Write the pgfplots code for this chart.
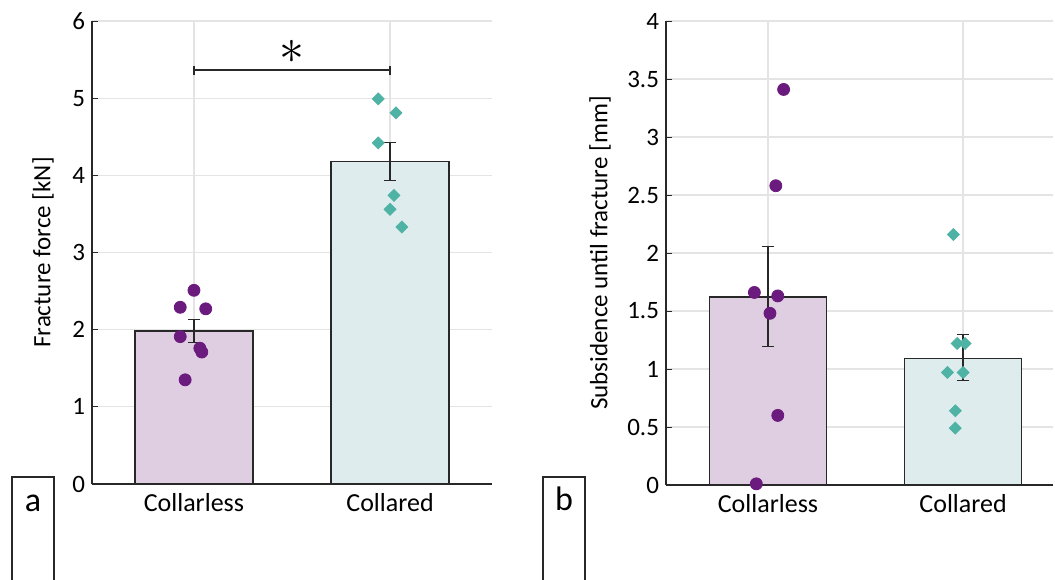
\documentclass[border=0pt]{standalone}
\usepackage{fontspec}
\setmainfont{Carlito}
\usepackage{pgfplots}
\pgfplotsset{compat=1.18}
\definecolor{barP}{RGB}{223,205,225}
\definecolor{barT}{RGB}{222,236,238}
\definecolor{dotP}{RGB}{106,27,125}
\definecolor{dotT}{RGB}{78,178,164}
\definecolor{edge}{RGB}{40,40,40}
\definecolor{gridc}{RGB}{228,228,228}
\pgfplotsset{
 myax/.style={
  scale only axis,
  axis x line*=bottom, axis y line*=left,
  axis line style={-, draw=edge, line width=0.7pt},
  xtick={1,2}, xticklabels={Collarless,Collared},
  grid=major, grid style={gridc, line width=0.6pt},
  tick style={draw=edge, line width=0.5pt},
  major tick length=3pt, tick align=inside,
  ticklabel style={font=\fontsize{12.5}{14}\selectfont},
  x tick label style={font=\fontsize{13}{15}\selectfont, yshift=-1pt},
  /pgf/number format/assume math mode=true,
  ymin=0, clip=false,
 },
 barPs/.style={ybar, bar width=0.6, bar shift=0pt, fill=barP, draw=edge, line width=0.85pt},
 barTs/.style={ybar, bar width=0.6, bar shift=0pt, fill=barT, draw=edge, line width=0.85pt},
 errs/.style={draw=none, mark=none, forget plot, error bars/.cd, y dir=both, y explicit,
   error bar style={draw=edge, line width=0.6pt},
   error mark options={rotate=90, draw=edge, mark size=3.1pt, line width=0.6pt}},
 dotsP/.style={only marks, mark=*, mark size=3pt, mark options={draw=dotP, fill=dotP}},
 dotsT/.style={only marks, mark=square*, mark size=2.1pt, mark options={rotate=45, draw=dotT, fill=dotT}},
}
\begin{document}
\begin{tikzpicture}
\path[use as bounding box] (0,0) rectangle (527.5pt,289.5pt);
% ---------- panel a ----------
\begin{axis}[myax, at={(46pt,47.5pt)}, anchor=south west,
  width=200pt, height=231.5pt,
  xmin=0.48, xmax=2.52, ymax=6, ytick={0,1,2,3,4,5,6},
  ylabel={Fracture force [kN]},
  every axis y label/.style={at={(axis description cs:-0.1225,0.5)}, rotate=90, anchor=center, font=\fontsize{12.5}{14}\selectfont},
]
\addplot[barPs] coordinates {(1,1.98)};
\addplot[barTs] coordinates {(2,4.18)};
\addplot[errs] coordinates {(1,1.98) +- (0,0.15) (2,4.18) +- (0,0.245)};
\addplot[dotsP] coordinates {(1.0,2.51) (0.93,2.29) (1.06,2.27) (0.93,1.91) (1.03,1.76) (1.04,1.71) (0.955,1.35)};
\addplot[dotsT] coordinates {(1.94,4.99) (2.03,4.81) (1.94,4.42) (2.02,3.74) (2.0,3.56) (2.06,3.33)};
\addplot[edge, line width=0.9pt, mark=|, mark size=2.3pt, mark options={line width=0.9pt}] coordinates {(1,5.36) (2,5.36)};
\node[inner sep=0pt, font=\fontsize{25}{25}\selectfont] at (axis cs:1.5,5.6) {$\ast$};
\end{axis}
% ---------- panel b ----------
\begin{axis}[myax, at={(333pt,47pt)}, anchor=south west,
  width=193.5pt, height=232pt,
  xmin=0.477, xmax=2.461, ymax=4, ytick={0,0.5,1,1.5,2,2.5,3,3.5,4},
  ylabel={Subsidence until fracture [mm]},
  every axis y label/.style={at={(axis description cs:-0.1705,0.5)}, rotate=90, anchor=center, font=\fontsize{12.5}{14}\selectfont},
]
\addplot[barPs] coordinates {(1,1.62)};
\addplot[barTs] coordinates {(2,1.09)};
\addplot[errs] coordinates {(1,1.625) +- (0,0.43) (2,1.10) +- (0,0.20)};
\addplot[dotsP] coordinates {(1.08,3.41) (1.04,2.58) (0.93,1.66) (1.05,1.63) (1.01,1.48) (1.05,0.60) (0.94,0.01)};
\addplot[dotsT] coordinates {(1.95,2.16) (1.97,1.22) (2.01,1.22) (1.92,0.97) (2.0,0.97) (1.96,0.64) (1.96,0.49)};
\end{axis}
% panel letters
\draw[edge, line width=0.6pt] (6pt,-5pt) -- (6pt,51pt) -- (27pt,51pt) -- (27pt,-5pt);
\node[font=\fontsize{17}{17}\selectfont] at (16.5pt,38pt) {a};
\draw[edge, line width=0.6pt] (271.5pt,-5pt) -- (271.5pt,51pt) -- (292.5pt,51pt) -- (292.5pt,-5pt);
\node[font=\fontsize{17}{17}\selectfont] at (282pt,40pt) {b};
\end{tikzpicture}
\end{document}
